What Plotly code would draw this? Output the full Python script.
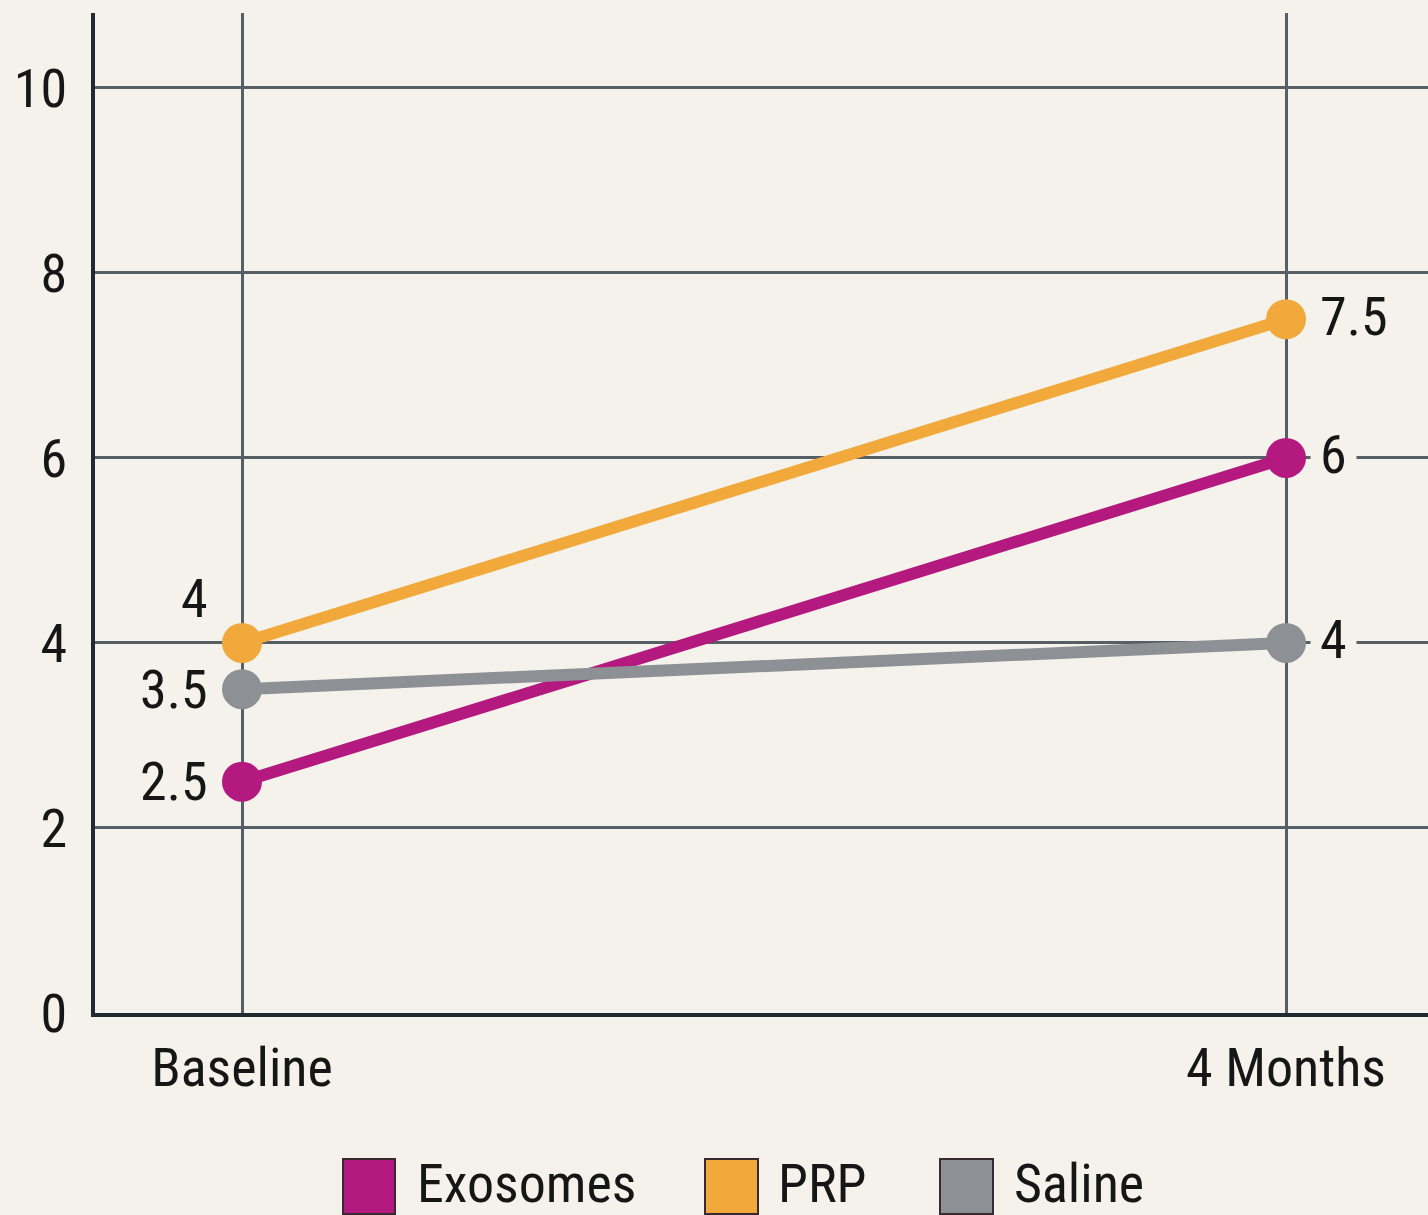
import plotly.graph_objects as go

# Timepoints and scores per treatment group
timepoints = ["Baseline", "4 Months"]
exosomes = [2.5, 6]
prp = [4, 7.5]
saline = [3.5, 4]

series_names = ["Exosomes", "PRP", "Saline"]
series_values = [exosomes, prp, saline]
series_colors = ["#b4197f", "#f0a93a", "#8d9196"]

y_ticks = [0, 2, 4, 6, 8, 10]

BG = "#f4f2eb"
GRID = "#565e66"
AXIS = "#1f2a31"
FONT = "Liberation Sans Narrow, Roboto Condensed, Roboto, sans-serif"
TXT = "#161616"
FS = 54

x_pos = list(range(len(timepoints)))

fig = go.Figure()
for name, vals, col in zip(series_names, series_values, series_colors):
    fig.add_trace(go.Scatter(
        x=x_pos, y=vals, name=name, mode="lines+markers",
        line=dict(color=col, width=12),
        marker=dict(color=col, size=40),
        showlegend=False, hoverinfo="skip",
    ))

# Value labels: left of the first point, right of the last point
label_offsets = {  # (xshift, yshift) per series at baseline
    "Exosomes": (-32, 0),
    "PRP": (-32, 44),
    "Saline": (-32, 0),
}
for name, vals in zip(series_names, series_values):
    xs, ys = label_offsets[name]
    fig.add_annotation(x=x_pos[0], y=vals[0], text=f"{vals[0]:g}", showarrow=False,
                       xanchor="right", xshift=xs, yshift=ys,
                       font=dict(family=FONT, size=FS, color=TXT))
    fig.add_annotation(x=x_pos[-1], y=vals[-1], text=f"{vals[-1]:g}", showarrow=False,
                       xanchor="left", xshift=24, yshift=3, bgcolor=BG, borderpad=9,
                       font=dict(family=FONT, size=FS, color=TXT))

# Legend as square swatches with labels below the plot
legend_x = [(343, 395, 415), (705, 758, 776), (940, 993, 1012)]
plot_l, plot_w = 95, 1333
plot_b, plot_h = 1013, 1000
def px_x(v):
    return (v - plot_l) / plot_w
def px_y(v):
    return (plot_b - v) / plot_h
for (x0, x1, tx), name, col in zip(legend_x, series_names, series_colors):
    fig.add_shape(type="rect", xref="paper", yref="paper",
                  x0=px_x(x0), x1=px_x(x1), y0=px_y(1214), y1=px_y(1159),
                  fillcolor=col, line=dict(color="#3a2a30", width=2))
    fig.add_annotation(xref="paper", yref="paper", x=px_x(tx), y=px_y(1183),
                       text=name, showarrow=False, xanchor="left", yanchor="middle",
                       font=dict(family=FONT, size=FS, color=TXT))

fig.update_layout(
    width=1428, height=1215,
    paper_bgcolor=BG, plot_bgcolor=BG,
    margin=dict(l=95, r=0, t=13, b=202),
    font=dict(family=FONT, color=TXT, size=FS),
)
fig.update_xaxes(
    range=[-0.1408, 1.136], tickvals=x_pos, ticktext=timepoints,
    showgrid=True, gridcolor=GRID, gridwidth=2.5,
    showline=True, linecolor=AXIS, linewidth=4,
    zeroline=False, ticks="", ticklabelstandoff=4,
    tickfont=dict(family=FONT, size=FS, color=TXT),
)
fig.update_yaxes(
    range=[0, 10.81], tickvals=y_ticks,
    showgrid=True, gridcolor=GRID, gridwidth=2.5,
    showline=True, linecolor=AXIS, linewidth=4,
    zeroline=False, ticks="", ticklabelstandoff=13,
    tickfont=dict(family=FONT, size=FS, color=TXT),
)

fig.write_html("out.html")
